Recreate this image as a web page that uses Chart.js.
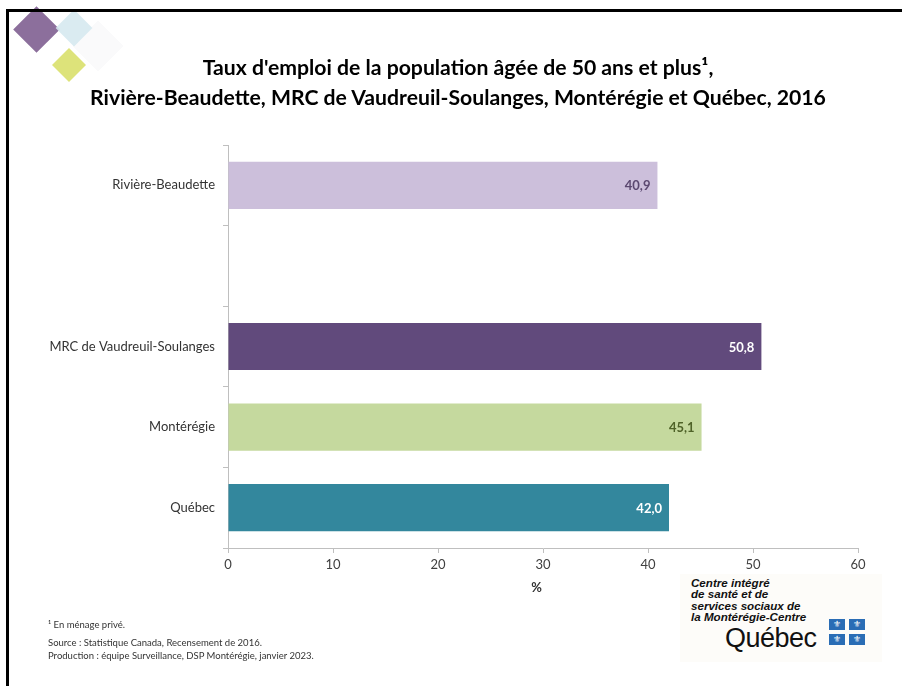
<!DOCTYPE html>
<html>
<head>
<meta charset="utf-8">
<script src="https://cdn.jsdelivr.net/npm/chart.js@4.4.0/dist/chart.umd.min.js"></script>
<style>
  html, body { margin: 0; padding: 0; background: #ffffff; }
  #wrap { position: relative; width: 902px; height: 686px; overflow: hidden; font-family: Lato, "Open Sans", sans-serif; }
  #c { position: absolute; left: 0; top: 0; }
  .dia { position: absolute; transform: rotate(45deg); }
  #frameL { position: absolute; left: 6px; top: 9px; width: 3px; height: 700px; background: #000; }
  #frameT { position: absolute; left: 6px; top: 9px; width: 900px; height: 3px; background: #000; }
  #title { position: absolute; left: 0; width: 916px; top: 52px; text-align: center; font-weight: bold; font-size: 21.2px; line-height: 30px; color: #000; }
  #notes { position: absolute; left: 48px; top: 617px; font-size: 9.5px; color: #333; line-height: 15px; }
  #logo { position: absolute; left: 680px; top: 574px; width: 202px; height: 88px; background: #fdfcf9; }
  #logo .t { position: absolute; left: 11px; top: 3px; font-family: "Liberation Sans", Arial, sans-serif; font-weight: bold; font-style: italic; font-size: 11.6px; line-height: 11.3px; color: #111; }
  #logo .q { position: absolute; left: 45px; top: 51px; font-family: "Liberation Sans", Arial, sans-serif; font-size: 27px; line-height: 27px; color: #111; letter-spacing: -0.5px; }
  .flag { position: absolute; width: 16px; height: 11px; background: #2a6db5; color: #fff; font-family: "DejaVu Sans"; font-size: 9px; line-height: 11px; text-align: center; }
</style>
</head>
<body>
<div id="wrap">
  <canvas id="c" width="902" height="686"></canvas>
  <div class="dia" style="left:20px;top:13px;width:33px;height:33px;background:#8c6f9c;"></div>
  <div class="dia" style="left:80px;top:28px;width:36px;height:36px;background:#fafafb;"></div>
  <div class="dia" style="left:61px;top:15px;width:26px;height:26px;background:#d6e9f0;opacity:0.9;"></div>
  <div class="dia" style="left:57px;top:53px;width:24px;height:24px;background:#dde37a;"></div>
  <div id="frameL"></div>
  <div id="frameT"></div>
  <div id="title">Taux d'emploi de la population âgée de 50 ans et plus¹,<br>Rivière-Beaudette, MRC de Vaudreuil-Soulanges, Montérégie et Québec, 2016</div>
  <div id="notes">¹ En ménage privé.<br><span style="position:relative;top:3px">Source : Statistique Canada, Recensement de 2016.</span><br><span style="position:relative;top:1px">Production : équipe Surveillance, DSP Montérégie, janvier 2023.</span></div>
  <div id="logo">
    <div class="t">Centre intégré<br>de santé et de<br>services sociaux de<br>la Montérégie-Centre</div>
    <div class="q">Québec</div>
    <div class="flag" style="left:149px;top:45px;">⚜</div>
    <div class="flag" style="left:169px;top:45px;">⚜</div>
    <div class="flag" style="left:149px;top:60px;">⚜</div>
    <div class="flag" style="left:169px;top:60px;">⚜</div>
  </div>
</div>
<script>
const categories = ["Rivière-Beaudette", "", "MRC de Vaudreuil-Soulanges", "Montérégie", "Québec"];
const values = [40.9, null, 50.8, 45.1, 42.0];
const barColors = ["#ccbfdb", "#ffffff", "#614a7c", "#c5d99e", "#33879d"];
const labelColors = ["#5b4870", "#ffffff", "#ffffff", "#4f6228", "#ffffff"];
const xMin = 0, xMax = 60, xStep = 10;
const xTitle = "%";

const valueLabels = {
  id: 'valueLabels',
  afterDatasetsDraw(chart) {
    const ctx = chart.ctx;
    const meta = chart.getDatasetMeta(0);
    ctx.save();
    ctx.font = 'bold 13px Lato, "Open Sans", sans-serif';
    ctx.textAlign = 'right';
    ctx.textBaseline = 'middle';
    meta.data.forEach((bar, i) => {
      const v = values[i];
      if (v === null || v === undefined) return;
      ctx.fillStyle = labelColors[i];
      ctx.fillText(v.toFixed(1).replace('.', ','), bar.x - 7, bar.y + 1);
    });
    // x-axis title, placed slightly left of centre as in the source
    const xs = chart.scales.x;
    ctx.font = 'bold 13px Lato, "Open Sans", sans-serif';
    ctx.textAlign = 'center';
    ctx.fillStyle = '#333';
    ctx.fillText(xTitle, xs.getPixelForValue(29.4), 588);
    ctx.restore();
  }
};

new Chart(document.getElementById('c'), {
  type: 'bar',
  data: {
    labels: categories,
    datasets: [{
      data: values,
      backgroundColor: barColors,
      borderWidth: 0,
      categoryPercentage: 1.0,
      barPercentage: 0.585
    }]
  },
  options: {
    indexAxis: 'y',
    responsive: false,
    animation: false,
    layout: { padding: { left: 0, right: 44, top: 145, bottom: 78 } },
    plugins: { legend: { display: false }, tooltip: { enabled: false }, title: { display: false } },
    scales: {
      y: {
        grid: { drawOnChartArea: false, drawTicks: true, tickLength: 5, color: '#bfbfbf', offset: true },
        border: { color: '#bfbfbf', width: 1 },
        ticks: { color: '#333333', font: { family: 'Lato, "Open Sans", sans-serif', size: 13 }, padding: 8 },
        afterFit(scale) { scale.width = 228; }
      },
      x: {
        min: xMin, max: xMax,
        grid: { drawOnChartArea: false, drawTicks: true, tickLength: 5, color: '#bfbfbf' },
        border: { color: '#bfbfbf', width: 1 },
        ticks: { stepSize: xStep, color: '#404040', font: { family: 'Lato, "Open Sans", sans-serif', size: 13 }, padding: 4 },
        title: { display: false },
        afterFit(scale) { scale.height = 60; }
      }
    }
  },
  plugins: [valueLabels]
});
</script>
</body>
</html>
